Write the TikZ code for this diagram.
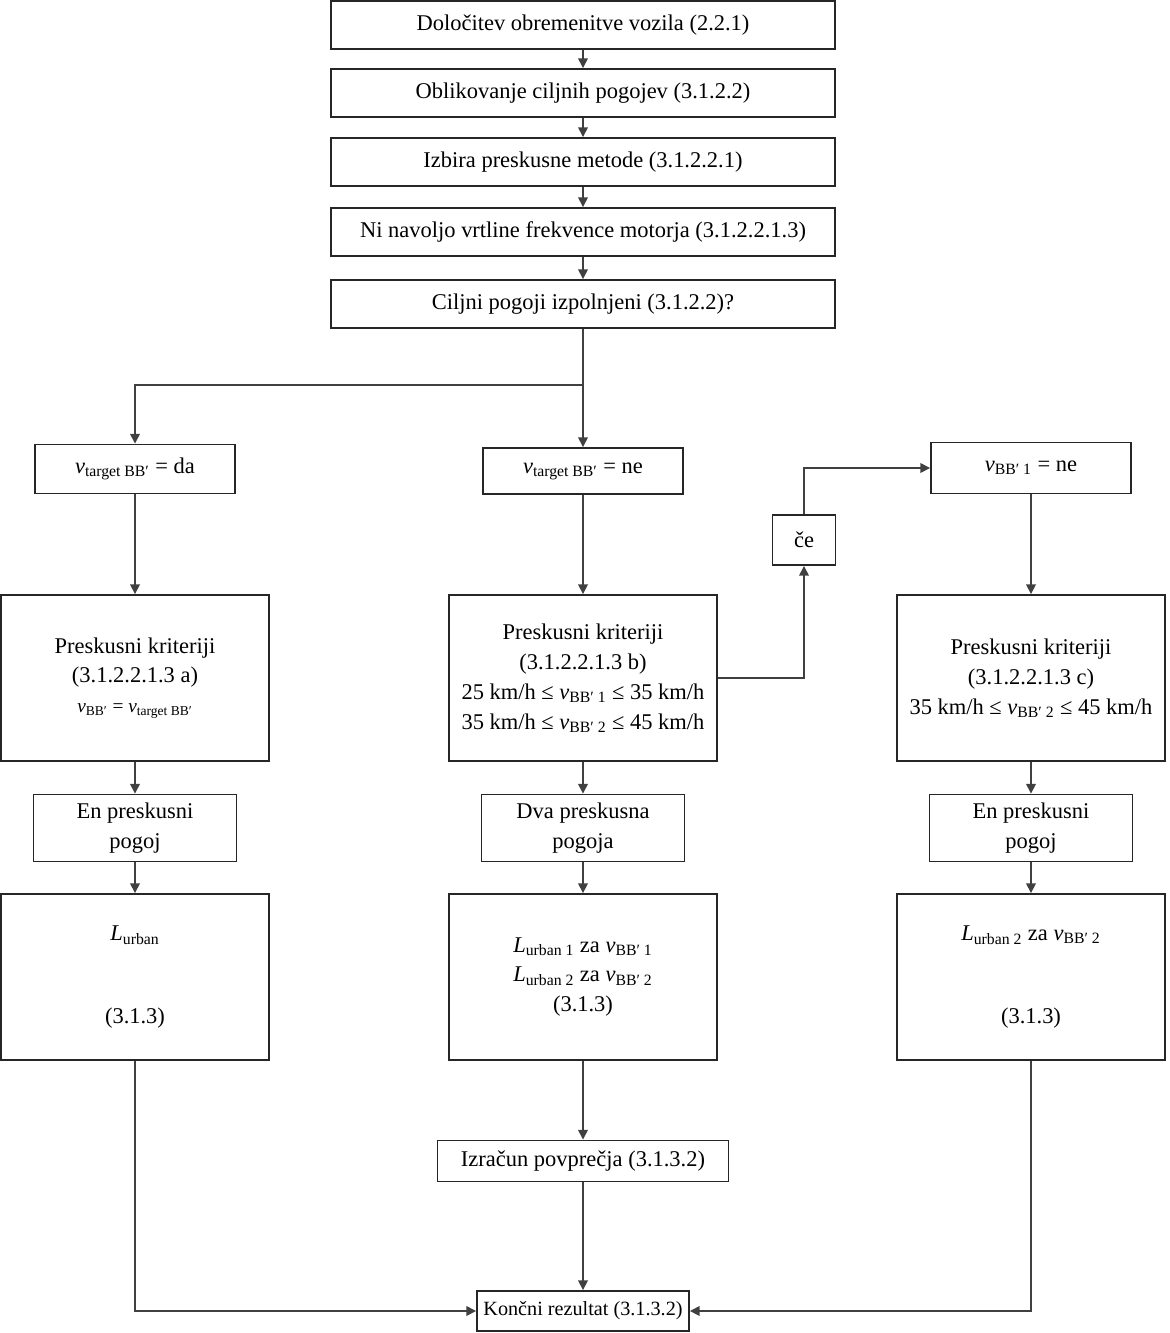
\documentclass[tikz,border=0pt]{standalone}
\usepackage{fontspec}
\setmainfont{Liberation Serif}
\usetikzlibrary{arrows.meta, positioning}

\newcommand{\vv}[1]{\textit{v}\textsubscript{#1}}
\newcommand{\LL}[1]{\textit{L}\textsubscript{#1}}

\begin{document}
\begin{tikzpicture}[x=0.02cm, y=-0.02cm, >={Triangle[length=5.5pt,width=5.5pt]},
      box/.style={draw=black!85, line width=1.1pt, rectangle, align=center,
                  font=\fontsize{12.8pt}{17pt}\selectfont, inner sep=2pt},
      wide/.style={box, minimum width=10.1cm, minimum height=0.96cm},
      cond/.style={box, minimum width=4cm, minimum height=0.98cm},
      crit/.style={box, minimum width=5.36cm, minimum height=3.32cm},
      pg/.style={box, minimum width=4.06cm, minimum height=1.34cm},
      arr/.style={->, line width=0.9pt, draw=black!75}]

    \useasboundingbox (0,0) rectangle (1170,1333);

    % Top chain of steps
    \node[wide] (b1) at (583, 25)  {Določitev obremenitve vozila (2.2.1)};
    \node[wide] (b2) at (583, 93)  {Oblikovanje ciljnih pogojev (3.1.2.2)};
    \node[wide] (b3) at (583, 162) {Izbira preskusne metode (3.1.2.2.1)};
    \node[wide] (b4) at (583, 232) {Ni navoljo vrtline frekvence motorja (3.1.2.2.1.3)};
    \node[wide] (b5) at (583, 304) {Ciljni pogoji izpolnjeni (3.1.2.2)?};
    \coordinate (split) at (583, 385);

    % Conditions
    \node[cond] (vda)  at (135, 469)  {\vv{target BB′} = da};
    \node[cond, minimum height=0.92cm] (vne) at (583, 471) {\vv{target BB′} = ne};
    \node[cond, minimum height=1.02cm] (vbb1) at (1031, 468) {\vv{BB′ 1} = ne};
    \node[box, minimum width=1.26cm, minimum height=1cm] (ce) at (804, 540) {če};

    % Test criteria
    \node[crit] (k1) at (135, 678) {Preskusni kriteriji\\(3.1.2.2.1.3 a)\\
        {\fontsize{11pt}{15pt}\selectfont \vv{BB′} = \vv{target BB′}}};
    \node[crit] (k2) at (583, 678) {Preskusni kriteriji\\(3.1.2.2.1.3 b)\\
        25 km/h ≤ \vv{BB′ 1} ≤ 35 km/h\\35 km/h ≤ \vv{BB′ 2} ≤ 45 km/h};
    \node[crit] (k3) at (1031, 678) {Preskusni kriteriji\\(3.1.2.2.1.3 c)\\
        35 km/h ≤ \vv{BB′ 2} ≤ 45 km/h};

    % Test conditions
    \node[pg] (p1) at (135, 828)  {En preskusni\\pogoj};
    \node[pg] (p2) at (583, 828)  {Dva preskusna\\pogoja};
    \node[pg] (p3) at (1031, 828) {En preskusni\\pogoj};

    % Results
    \node[crit] (l1) at (135, 977) {\LL{urban}\\[1.05cm](3.1.3)};
    \node[crit] (l2) at (583, 977) {\LL{urban 1} za \vv{BB′ 1}\\
        \LL{urban 2} za \vv{BB′ 2}\\(3.1.3)};
    \node[crit] (l3) at (1031, 977) {\LL{urban 2} za \vv{BB′ 2}\\[1.05cm](3.1.3)};

    \node[box, minimum width=5.82cm, minimum height=0.82cm] (izr) at (583, 1161) {Izračun povprečja (3.1.3.2)};
    \node[box, minimum width=4.24cm, minimum height=0.8cm, font=\fontsize{11.5pt}{14pt}\selectfont]
        (kon) at (583, 1311) {Končni rezultat (3.1.3.2)};

    % Connectors
    \draw[arr] (b1) -- (b2);
    \draw[arr] (b2) -- (b3);
    \draw[arr] (b3) -- (b4);
    \draw[arr] (b4) -- (b5);
    \draw[line width=0.9pt, black!75] (b5) -- (split);
    \draw[arr] (split) -| (vda);
    \draw[arr] (split) -- (vne);

    \draw[arr] (vda) -- (k1);
    \draw[arr] (vne) -- (k2);
    \draw[arr] (vbb1) -- (k3);
    \draw[arr] (k2) -| (ce);
    \draw[arr] (ce) |- (vbb1);

    \draw[arr] (k1) -- (p1);
    \draw[arr] (k2) -- (p2);
    \draw[arr] (k3) -- (p3);
    \draw[arr] (p1) -- (l1);
    \draw[arr] (p2) -- (l2);
    \draw[arr] (p3) -- (l3);

    \draw[arr] (l2) -- (izr);
    \draw[arr] (izr) -- (kon);
    \draw[arr] (l1) |- (kon);
    \draw[arr] (l3) |- (kon);

\end{tikzpicture}
\end{document}
